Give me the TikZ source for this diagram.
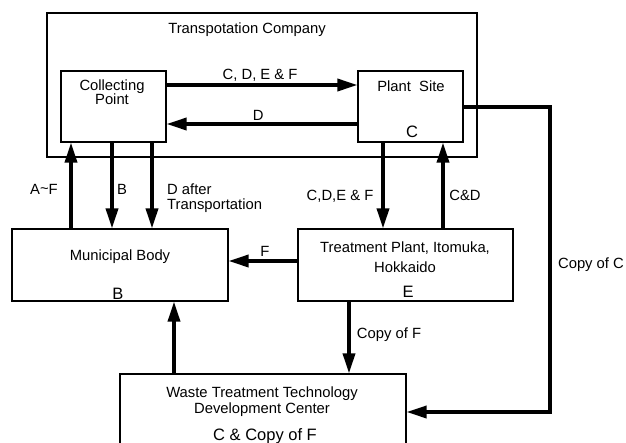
\documentclass[tikz,border=0pt]{standalone}
\usepackage{fontspec}
\setmainfont{Liberation Sans}
\usetikzlibrary{arrows.meta}
\begin{document}
\begin{tikzpicture}[x=1pt,y=-1pt,
  box/.style={draw, line width=1.1pt, rectangle, inner sep=0pt},
  txt/.style={inner sep=0pt, anchor=base, font=\fontsize{14.8pt}{17pt}\selectfont},
  bigtxt/.style={txt, font=\fontsize{16.5pt}{19pt}\selectfont},
  arr/.style={line width=3.4pt, -{Triangle[length=20pt,width=12pt]}},
  ]
\clip (0,0) rectangle (626,442);
% boxes
\node[box, minimum width=430pt, minimum height=144pt] (tc) at (262,85) {};
\node[box, minimum width=105pt, minimum height=71pt] (cp) at (113.5,106.5) {};
\node[box, minimum width=105pt, minimum height=71pt] (ps) at (410.5,106.5) {};
\node[box, minimum width=216pt, minimum height=72pt] (mb) at (120,265) {};
\node[box, minimum width=215pt, minimum height=72pt] (tp) at (405.5,265) {};
\node[box, minimum width=286pt, minimum height=90pt] (wt) at (263,419) {};
% texts
\node[txt] (tTC) at (247,33) {Transpotation Company};
\node[txt] (tCP1) at (112,90) {Collecting};
\node[txt] (tCP2) at (112,104) {Point};
\node[txt] (tPS) at (411,91) {Plant\ \ Site};
\node[bigtxt] (tPSc) at (412,137.5) {C};
\node[txt] (tMB) at (120,260) {Municipal Body};
\node[bigtxt] (tMBb) at (118,299) {B};
\node[txt] (tTP1) at (405,252) {Treatment Plant, Itomuka,};
\node[txt] (tTP2) at (405,272) {Hokkaido};
\node[bigtxt] (tTPe) at (408,297.5) {E};
\node[txt] (tWT1) at (262,397) {Waste Treatment Technology};
\node[txt] (tWT2) at (262,413) {Development Center};
\node[bigtxt] (tWT3) at (265,440) {C \& Copy of F};
% connectors
\draw[arr] (cp.east |- 0,85) -- node[txt, pos=0.49, yshift=6pt] (l1) {C, D, E \& F} (ps.west |- 0,85);
\draw[arr] (ps.west |- 0,124) -- node[txt, pos=0.52, yshift=4pt] (l2) {D} (cp.east |- 0,124);
\draw[arr] (mb.north -| 71,0) -- (cp.south -| 71,0);
\draw[arr] (cp.south -| 112,0) -- (mb.north -| 112,0);
\draw[arr] (cp.south -| 152,0) -- (mb.north -| 152,0);
\node[txt] (lAF) at (44,194.5) {A\raisebox{1pt}{\textasciitilde}F};
\node[txt] (lB) at (122,194.5) {B};
\node[txt, anchor=base west] (lD1) at (167,194.5) {D after};
\node[txt, anchor=base west] (lD2) at (167,209.5) {Transportation};
\draw[arr] (ps.south -| 383,0) -- (tp.north -| 383,0);
\draw[arr] (tp.north -| 443,0) -- (ps.south -| 443,0);
\node[txt] (lCDEF) at (340,200) {C,D,E \& F};
\node[txt] (lCD) at (465,200) {C\&D};
\draw[arr] (tp.west |- 0,261) -- (mb.east |- 0,261);
\node[txt] (lF) at (265,256) {F};
\draw[arr] (tp.south -| 349,0) -- (wt.north -| 349,0);
\node[txt] (lCF) at (389,338) {Copy of F};
\draw[arr] (wt.north -| 174,0) -- (mb.south -| 174,0);
\coordinate (c1) at (550,107);
\coordinate (c2) at (550,412);
\draw[arr] (ps.east |- c1) -- (c1) -- (c2) -- (wt.east |- c2);
\node[txt] (lCC) at (591,268) {Copy of C};
\end{tikzpicture}
\end{document}
